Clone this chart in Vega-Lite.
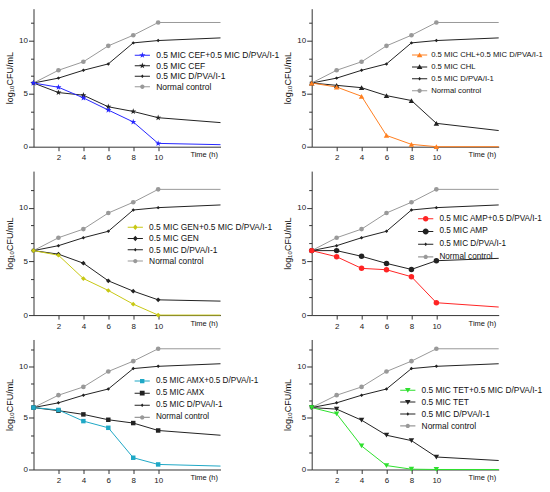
{
  "$schema": "https://vega.github.io/schema/vega-lite/v6.json",
  "padding": {"left": 5.5, "top": 8.7, "right": 0, "bottom": 0},
  "config": {
    "font": "Liberation Sans",
    "view": {"stroke": null},
    "axis": {"grid": false, "domainColor": "#333333", "tickColor": "#333333", "labelColor": "#222222", "labelFontSize": 8, "titleColor": "#111111", "titleFontWeight": "normal"},
    "legend": {"labelFontSize": 8.5, "labelColor": "#111111"}
  },
  "data": {
    "values": [
      {"p": "all", "s": "Normal control", "t": 0, "v": 6}, {"p": "all", "s": "Normal control", "t": 2, "v": 7.2}, {"p": "all", "s": "Normal control", "t": 4, "v": 8.0}, {"p": "all", "s": "Normal control", "t": 6, "v": 9.5}, {"p": "all", "s": "Normal control", "t": 8, "v": 10.5}, {"p": "all", "s": "Normal control", "t": 10, "v": 11.7}, {"p": "all", "s": "Normal control", "t": 15, "v": 11.7},
      {"p": "all", "s": "0.5 MIC D/PVA/I-1", "t": 0, "v": 6}, {"p": "all", "s": "0.5 MIC D/PVA/I-1", "t": 2, "v": 6.46}, {"p": "all", "s": "0.5 MIC D/PVA/I-1", "t": 4, "v": 7.2}, {"p": "all", "s": "0.5 MIC D/PVA/I-1", "t": 6, "v": 7.8}, {"p": "all", "s": "0.5 MIC D/PVA/I-1", "t": 8, "v": 9.78}, {"p": "all", "s": "0.5 MIC D/PVA/I-1", "t": 10, "v": 10.0}, {"p": "all", "s": "0.5 MIC D/PVA/I-1", "t": 15, "v": 10.25},
      {"p": "CEF", "s": "0.5 MIC CEF", "t": 0, "v": 6}, {"p": "CEF", "s": "0.5 MIC CEF", "t": 2, "v": 5.1}, {"p": "CEF", "s": "0.5 MIC CEF", "t": 4, "v": 4.85}, {"p": "CEF", "s": "0.5 MIC CEF", "t": 6, "v": 3.76}, {"p": "CEF", "s": "0.5 MIC CEF", "t": 8, "v": 3.32}, {"p": "CEF", "s": "0.5 MIC CEF", "t": 10, "v": 2.73}, {"p": "CEF", "s": "0.5 MIC CEF", "t": 15, "v": 2.27},
      {"p": "CEF", "s": "0.5 MIC CEF+0.5 MIC D/PVA/I-1", "t": 0, "v": 6}, {"p": "CEF", "s": "0.5 MIC CEF+0.5 MIC D/PVA/I-1", "t": 2, "v": 5.6}, {"p": "CEF", "s": "0.5 MIC CEF+0.5 MIC D/PVA/I-1", "t": 4, "v": 4.6}, {"p": "CEF", "s": "0.5 MIC CEF+0.5 MIC D/PVA/I-1", "t": 6, "v": 3.45}, {"p": "CEF", "s": "0.5 MIC CEF+0.5 MIC D/PVA/I-1", "t": 8, "v": 2.33}, {"p": "CEF", "s": "0.5 MIC CEF+0.5 MIC D/PVA/I-1", "t": 10, "v": 0.31}, {"p": "CEF", "s": "0.5 MIC CEF+0.5 MIC D/PVA/I-1", "t": 15, "v": 0.19},
      {"p": "CHL", "s": "0.5 MIC CHL", "t": 0, "v": 6}, {"p": "CHL", "s": "0.5 MIC CHL", "t": 2, "v": 5.78}, {"p": "CHL", "s": "0.5 MIC CHL", "t": 4, "v": 5.56}, {"p": "CHL", "s": "0.5 MIC CHL", "t": 6, "v": 4.81}, {"p": "CHL", "s": "0.5 MIC CHL", "t": 8, "v": 4.35}, {"p": "CHL", "s": "0.5 MIC CHL", "t": 10, "v": 2.2}, {"p": "CHL", "s": "0.5 MIC CHL", "t": 15, "v": 1.52},
      {"p": "CHL", "s": "0.5 MIC CHL+0.5 MIC D/PVA/I-1", "t": 0, "v": 6}, {"p": "CHL", "s": "0.5 MIC CHL+0.5 MIC D/PVA/I-1", "t": 2, "v": 5.62}, {"p": "CHL", "s": "0.5 MIC CHL+0.5 MIC D/PVA/I-1", "t": 4, "v": 4.75}, {"p": "CHL", "s": "0.5 MIC CHL+0.5 MIC D/PVA/I-1", "t": 6, "v": 1.06}, {"p": "CHL", "s": "0.5 MIC CHL+0.5 MIC D/PVA/I-1", "t": 8, "v": 0.22}, {"p": "CHL", "s": "0.5 MIC CHL+0.5 MIC D/PVA/I-1", "t": 10, "v": 0}, {"p": "CHL", "s": "0.5 MIC CHL+0.5 MIC D/PVA/I-1", "t": 15, "v": 0},
      {"p": "GEN", "s": "0.5 MIC GEN", "t": 0, "v": 6}, {"p": "GEN", "s": "0.5 MIC GEN", "t": 2, "v": 5.67}, {"p": "GEN", "s": "0.5 MIC GEN", "t": 4, "v": 4.83}, {"p": "GEN", "s": "0.5 MIC GEN", "t": 6, "v": 3.19}, {"p": "GEN", "s": "0.5 MIC GEN", "t": 8, "v": 2.23}, {"p": "GEN", "s": "0.5 MIC GEN", "t": 10, "v": 1.42}, {"p": "GEN", "s": "0.5 MIC GEN", "t": 15, "v": 1.3},
      {"p": "GEN", "s": "0.5 MIC GEN+0.5 MIC D/PVA/I-1", "t": 0, "v": 6}, {"p": "GEN", "s": "0.5 MIC GEN+0.5 MIC D/PVA/I-1", "t": 2, "v": 5.57}, {"p": "GEN", "s": "0.5 MIC GEN+0.5 MIC D/PVA/I-1", "t": 4, "v": 3.4}, {"p": "GEN", "s": "0.5 MIC GEN+0.5 MIC D/PVA/I-1", "t": 6, "v": 2.29}, {"p": "GEN", "s": "0.5 MIC GEN+0.5 MIC D/PVA/I-1", "t": 8, "v": 1.02}, {"p": "GEN", "s": "0.5 MIC GEN+0.5 MIC D/PVA/I-1", "t": 10, "v": 0}, {"p": "GEN", "s": "0.5 MIC GEN+0.5 MIC D/PVA/I-1", "t": 15, "v": 0},
      {"p": "AMP", "s": "0.5 MIC AMP", "t": 0, "v": 6}, {"p": "AMP", "s": "0.5 MIC AMP", "t": 2, "v": 6.0}, {"p": "AMP", "s": "0.5 MIC AMP", "t": 4, "v": 5.47}, {"p": "AMP", "s": "0.5 MIC AMP", "t": 6, "v": 4.81}, {"p": "AMP", "s": "0.5 MIC AMP", "t": 8, "v": 4.25}, {"p": "AMP", "s": "0.5 MIC AMP", "t": 10, "v": 5.06}, {"p": "AMP", "s": "0.5 MIC AMP", "t": 15, "v": 5.28},
      {"p": "AMP", "s": "0.5 MIC AMP+0.5 D/PVA/I-1", "t": 0, "v": 6}, {"p": "AMP", "s": "0.5 MIC AMP+0.5 D/PVA/I-1", "t": 2, "v": 5.43}, {"p": "AMP", "s": "0.5 MIC AMP+0.5 D/PVA/I-1", "t": 4, "v": 4.35}, {"p": "AMP", "s": "0.5 MIC AMP+0.5 D/PVA/I-1", "t": 6, "v": 4.22}, {"p": "AMP", "s": "0.5 MIC AMP+0.5 D/PVA/I-1", "t": 8, "v": 3.57}, {"p": "AMP", "s": "0.5 MIC AMP+0.5 D/PVA/I-1", "t": 10, "v": 1.15}, {"p": "AMP", "s": "0.5 MIC AMP+0.5 D/PVA/I-1", "t": 15, "v": 0.75},
      {"p": "AMX", "s": "0.5 MIC AMX", "t": 0, "v": 6}, {"p": "AMX", "s": "0.5 MIC AMX", "t": 2, "v": 5.7}, {"p": "AMX", "s": "0.5 MIC AMX", "t": 4, "v": 5.34}, {"p": "AMX", "s": "0.5 MIC AMX", "t": 6, "v": 4.82}, {"p": "AMX", "s": "0.5 MIC AMX", "t": 8, "v": 4.5}, {"p": "AMX", "s": "0.5 MIC AMX", "t": 10, "v": 3.78}, {"p": "AMX", "s": "0.5 MIC AMX", "t": 15, "v": 3.32},
      {"p": "AMX", "s": "0.5 MIC AMX+0.5 D/PVA/I-1", "t": 0, "v": 6}, {"p": "AMX", "s": "0.5 MIC AMX+0.5 D/PVA/I-1", "t": 2, "v": 5.77}, {"p": "AMX", "s": "0.5 MIC AMX+0.5 D/PVA/I-1", "t": 4, "v": 4.69}, {"p": "AMX", "s": "0.5 MIC AMX+0.5 D/PVA/I-1", "t": 6, "v": 4.04}, {"p": "AMX", "s": "0.5 MIC AMX+0.5 D/PVA/I-1", "t": 8, "v": 1.14}, {"p": "AMX", "s": "0.5 MIC AMX+0.5 D/PVA/I-1", "t": 10, "v": 0.49}, {"p": "AMX", "s": "0.5 MIC AMX+0.5 D/PVA/I-1", "t": 15, "v": 0.33},
      {"p": "TET", "s": "0.5 MIC TET", "t": 0, "v": 6}, {"p": "TET", "s": "0.5 MIC TET", "t": 2, "v": 5.85}, {"p": "TET", "s": "0.5 MIC TET", "t": 4, "v": 4.78}, {"p": "TET", "s": "0.5 MIC TET", "t": 6, "v": 3.32}, {"p": "TET", "s": "0.5 MIC TET", "t": 8, "v": 2.8}, {"p": "TET", "s": "0.5 MIC TET", "t": 10, "v": 1.21}, {"p": "TET", "s": "0.5 MIC TET", "t": 15, "v": 0.87},
      {"p": "TET", "s": "0.5 MIC TET+0.5 MIC D/PVA/I-1", "t": 0, "v": 6}, {"p": "TET", "s": "0.5 MIC TET+0.5 MIC D/PVA/I-1", "t": 2, "v": 5.4}, {"p": "TET", "s": "0.5 MIC TET+0.5 MIC D/PVA/I-1", "t": 4, "v": 2.28}, {"p": "TET", "s": "0.5 MIC TET+0.5 MIC D/PVA/I-1", "t": 6, "v": 0.38}, {"p": "TET", "s": "0.5 MIC TET+0.5 MIC D/PVA/I-1", "t": 8, "v": 0.03}, {"p": "TET", "s": "0.5 MIC TET+0.5 MIC D/PVA/I-1", "t": 10, "v": 0}, {"p": "TET", "s": "0.5 MIC TET+0.5 MIC D/PVA/I-1", "t": 15, "v": 0}
    ]
  },
  "bounds": "flush",
  "columns": 2,
  "spacing": {"row": 24.4, "column": 91.2},
  "concat": [
    {
      "width": 187, "height": 138,
      "transform": [{"filter": "datum.p == 'CEF' || datum.p == 'all'"}],
      "encoding": {
        "x": {"field": "t", "type": "quantitative", "scale": {"domain": [0, 15]}, "axis": {"values": [2, 4, 6, 8, 10], "tickSize": 4, "labelPadding": 3, "title": "Time (h)", "titleFontSize": 7.5, "titleX": 184, "titleY": 8, "titleAlign": "right", "titleBaseline": "middle", "titleAnchor": "end"}},
        "y": {"field": "v", "type": "quantitative", "scale": {"domain": [0, 13]}, "axis": {"title": "log₁₀CFU/mL", "titleFontSize": 9, "titleX": -24, "titleBaseline": "middle", "values": [0, 1.6667, 3.3333, 5, 6.6667, 8.3333, 10, 11.6667], "labelExpr": "datum.value % 5 == 0 ? datum.label : ''", "tickSize": {"condition": {"test": "datum.value % 5 == 0", "value": 5}, "value": 3}, "labelPadding": 1}}
      },
      "layer": [
        {"mark": {"type": "line", "strokeWidth": 1}, "encoding": {"color": {"field": "s", "type": "nominal", "scale": {"domain": ["0.5 MIC CEF+0.5 MIC D/PVA/I-1", "0.5 MIC CEF", "0.5 MIC D/PVA/I-1", "Normal control"], "range": ["#2626ff", "#222222", "#222222", "#999999"]}, "legend": null}}},
        {"transform": [{"filter": "datum.t <= 10 && datum.s == 'Normal control'"}], "mark": {"type": "point", "filled": true, "opacity": 1, "shape": "circle", "size": 22, "color": "#999999"}},
        {"transform": [{"filter": "datum.t <= 10 && datum.s == '0.5 MIC D/PVA/I-1'"}], "mark": {"type": "point", "filled": true, "opacity": 1, "shape": "diamond", "size": 12, "color": "#222222"}},
        {"transform": [{"filter": "datum.t <= 10 && datum.p != 'all'"}], "mark": {"type": "point", "filled": true, "opacity": 1, "size": 40}, "encoding": {
          "color": {"field": "s", "type": "nominal", "scale": {"domain": ["0.5 MIC CEF+0.5 MIC D/PVA/I-1", "0.5 MIC CEF"], "range": ["#2626ff", "#222222"]}, "legend": null},
          "shape": {"field": "s", "type": "nominal", "scale": {"domain": ["0.5 MIC CEF+0.5 MIC D/PVA/I-1", "0.5 MIC CEF"], "range": ["M0,-1L0.235,-0.324L0.951,-0.309L0.38,0.124L0.588,0.809L0,0.4L-0.588,0.809L-0.38,0.124L-0.951,-0.309L-0.235,-0.324Z", "M0,-1L0.235,-0.324L0.951,-0.309L0.38,0.124L0.588,0.809L0,0.4L-0.588,0.809L-0.38,0.124L-0.951,-0.309L-0.235,-0.324Z"]}, "legend": null}}},
        {"transform": [{"filter": "datum.t < 0"}], "mark": {"type": "point", "filled": true, "opacity": 1}, "encoding": {
          "color": {"field": "s", "type": "nominal", "scale": {"domain": ["0.5 MIC CEF+0.5 MIC D/PVA/I-1", "0.5 MIC CEF", "0.5 MIC D/PVA/I-1", "Normal control"], "range": ["#2626ff", "#222222", "#222222", "#999999"]}, "legend": {"title": null, "orient": "none", "legendX": 104.6, "legendY": 42.3, "padding": 0, "rowPadding": 1.5, "labelOffset": 9.6, "labelFontSize": 8.5, "symbolSize": 64, "symbolStrokeWidth": 0}},
          "shape": {"field": "s", "type": "nominal", "scale": {"domain": ["0.5 MIC CEF+0.5 MIC D/PVA/I-1", "0.5 MIC CEF", "0.5 MIC D/PVA/I-1", "Normal control"], "range": ["M-1.9,-0.13H1.9V0.13H-1.9Z M0,-0.8L0.188,-0.259L0.761,-0.247L0.304,0.099L0.47,0.647L0,0.32L-0.47,0.647L-0.304,0.099L-0.761,-0.247L-0.188,-0.259Z", "M-1.9,-0.13H1.9V0.13H-1.9Z M0,-0.8L0.188,-0.259L0.761,-0.247L0.304,0.099L0.47,0.647L0,0.32L-0.47,0.647L-0.304,0.099L-0.761,-0.247L-0.188,-0.259Z", "M-1.9,-0.13H1.9V0.13H-1.9Z M0,-0.45L0.4,0L0,0.45L-0.4,0Z", "M-1.9,-0.13H1.9V0.13H-1.9Z M-0.55,0A0.55,0.55 0 1,1 0.55,0A0.55,0.55 0 1,1 -0.55,0Z"]}, "legend": {"title": null, "orient": "none", "legendX": 104.6, "legendY": 42.3, "padding": 0, "rowPadding": 1.5, "labelOffset": 9.6, "labelFontSize": 8.5, "symbolSize": 64, "symbolStrokeWidth": 0}}}}
      ],
      "resolve": {"scale": {"color": "independent", "shape": "independent"}}
    },
    {
      "width": 187, "height": 138,
      "transform": [{"filter": "datum.p == 'CHL' || datum.p == 'all'"}],
      "encoding": {
        "x": {"field": "t", "type": "quantitative", "scale": {"domain": [0, 15]}, "axis": {"values": [2, 4, 6, 8, 10], "tickSize": 4, "labelPadding": 3, "title": "Time (h)", "titleFontSize": 7.5, "titleX": 184, "titleY": 8, "titleAlign": "right", "titleBaseline": "middle", "titleAnchor": "end"}},
        "y": {"field": "v", "type": "quantitative", "scale": {"domain": [0, 13]}, "axis": {"title": "log₁₀CFU/mL", "titleFontSize": 9, "titleX": -24, "titleBaseline": "middle", "values": [0, 1.6667, 3.3333, 5, 6.6667, 8.3333, 10, 11.6667], "labelExpr": "datum.value % 5 == 0 ? datum.label : ''", "tickSize": {"condition": {"test": "datum.value % 5 == 0", "value": 5}, "value": 3}, "labelPadding": 1}}
      },
      "layer": [
        {"mark": {"type": "line", "strokeWidth": 1}, "encoding": {"color": {"field": "s", "type": "nominal", "scale": {"domain": ["0.5 MIC CHL+0.5 MIC D/PVA/I-1", "0.5 MIC CHL", "0.5 MIC D/PVA/I-1", "Normal control"], "range": ["#ff8020", "#222222", "#222222", "#999999"]}, "legend": null}}},
        {"transform": [{"filter": "datum.t <= 10 && datum.s == 'Normal control'"}], "mark": {"type": "point", "filled": true, "opacity": 1, "shape": "circle", "size": 22, "color": "#999999"}},
        {"transform": [{"filter": "datum.t <= 10 && datum.s == '0.5 MIC D/PVA/I-1'"}], "mark": {"type": "point", "filled": true, "opacity": 1, "shape": "diamond", "size": 12, "color": "#222222"}},
        {"transform": [{"filter": "datum.t <= 10 && datum.p != 'all'"}], "mark": {"type": "point", "filled": true, "opacity": 1, "size": 30}, "encoding": {
          "color": {"field": "s", "type": "nominal", "scale": {"domain": ["0.5 MIC CHL+0.5 MIC D/PVA/I-1", "0.5 MIC CHL"], "range": ["#ff8020", "#222222"]}, "legend": null},
          "shape": {"field": "s", "type": "nominal", "scale": {"domain": ["0.5 MIC CHL+0.5 MIC D/PVA/I-1", "0.5 MIC CHL"], "range": ["triangle-up", "triangle-up"]}, "legend": null}}},
        {"transform": [{"filter": "datum.t < 0"}], "mark": {"type": "point", "filled": true, "opacity": 1}, "encoding": {
          "color": {"field": "s", "type": "nominal", "scale": {"domain": ["0.5 MIC CHL+0.5 MIC D/PVA/I-1", "0.5 MIC CHL", "0.5 MIC D/PVA/I-1", "Normal control"], "range": ["#ff8020", "#222222", "#222222", "#999999"]}, "legend": {"title": null, "orient": "none", "legendX": 103.9, "legendY": 42.3, "padding": 0, "rowPadding": 3.9, "labelOffset": 7.6, "labelFontSize": 7.7, "symbolSize": 64, "symbolStrokeWidth": 0}},
          "shape": {"field": "s", "type": "nominal", "scale": {"domain": ["0.5 MIC CHL+0.5 MIC D/PVA/I-1", "0.5 MIC CHL", "0.5 MIC D/PVA/I-1", "Normal control"], "range": ["M-1.9,-0.13H1.9V0.13H-1.9Z M0,-0.65L0.7,0.55L-0.7,0.55Z", "M-1.9,-0.13H1.9V0.13H-1.9Z M0,-0.65L0.7,0.55L-0.7,0.55Z", "M-1.9,-0.13H1.9V0.13H-1.9Z M0,-0.45L0.4,0L0,0.45L-0.4,0Z", "M-1.9,-0.13H1.9V0.13H-1.9Z M-0.55,0A0.55,0.55 0 1,1 0.55,0A0.55,0.55 0 1,1 -0.55,0Z"]}, "legend": {"title": null, "orient": "none", "legendX": 103.9, "legendY": 42.3, "padding": 0, "rowPadding": 3.9, "labelOffset": 7.6, "labelFontSize": 7.7, "symbolSize": 64, "symbolStrokeWidth": 0}}}}
      ],
      "resolve": {"scale": {"color": "independent", "shape": "independent"}}
    },
    {
      "width": 187, "height": 144,
      "transform": [{"filter": "datum.p == 'GEN' || datum.p == 'all'"}],
      "encoding": {
        "x": {"field": "t", "type": "quantitative", "scale": {"domain": [0, 15]}, "axis": {"values": [2, 4, 6, 8, 10], "tickSize": 4, "labelPadding": 3, "title": "Time (h)", "titleFontSize": 7.5, "titleX": 184, "titleY": 8, "titleAlign": "right", "titleBaseline": "middle", "titleAnchor": "end"}},
        "y": {"field": "v", "type": "quantitative", "scale": {"domain": [0, 13.4]}, "axis": {"title": "log₁₀CFU/mL", "titleFontSize": 9, "titleX": -24, "titleBaseline": "middle", "values": [0, 1.6667, 3.3333, 5, 6.6667, 8.3333, 10, 11.6667], "labelExpr": "datum.value % 5 == 0 ? datum.label : ''", "tickSize": {"condition": {"test": "datum.value % 5 == 0", "value": 5}, "value": 3}, "labelPadding": 1}}
      },
      "layer": [
        {"mark": {"type": "line", "strokeWidth": 1}, "encoding": {"color": {"field": "s", "type": "nominal", "scale": {"domain": ["0.5 MIC GEN+0.5 MIC D/PVA/I-1", "0.5 MIC GEN", "0.5 MIC D/PVA/I-1", "Normal control"], "range": ["#c8c814", "#222222", "#222222", "#999999"]}, "legend": null}}},
        {"transform": [{"filter": "datum.t <= 10 && datum.s == 'Normal control'"}], "mark": {"type": "point", "filled": true, "opacity": 1, "shape": "circle", "size": 22, "color": "#999999"}},
        {"transform": [{"filter": "datum.t <= 10 && datum.s == '0.5 MIC D/PVA/I-1'"}], "mark": {"type": "point", "filled": true, "opacity": 1, "shape": "diamond", "size": 12, "color": "#222222"}},
        {"transform": [{"filter": "datum.t <= 10 && datum.p != 'all'"}], "mark": {"type": "point", "filled": true, "opacity": 1, "size": 22, "shape": "diamond"}, "encoding": {
          "color": {"field": "s", "type": "nominal", "scale": {"domain": ["0.5 MIC GEN+0.5 MIC D/PVA/I-1", "0.5 MIC GEN"], "range": ["#c8c814", "#222222"]}, "legend": null}}},
        {"transform": [{"filter": "datum.t < 0"}], "mark": {"type": "point", "filled": true, "opacity": 1}, "encoding": {
          "color": {"field": "s", "type": "nominal", "scale": {"domain": ["0.5 MIC GEN+0.5 MIC D/PVA/I-1", "0.5 MIC GEN", "0.5 MIC D/PVA/I-1", "Normal control"], "range": ["#c8c814", "#222222", "#222222", "#999999"]}, "legend": {"title": null, "orient": "none", "legendX": 97.6, "legendY": 51.9, "padding": 0, "rowPadding": 2.3, "labelOffset": 9.6, "labelFontSize": 8.4, "symbolSize": 64, "symbolStrokeWidth": 0}},
          "shape": {"field": "s", "type": "nominal", "scale": {"domain": ["0.5 MIC GEN+0.5 MIC D/PVA/I-1", "0.5 MIC GEN", "0.5 MIC D/PVA/I-1", "Normal control"], "range": ["M-1.9,-0.13H1.9V0.13H-1.9Z M0,-0.7L0.6,0L0,0.7L-0.6,0Z", "M-1.9,-0.13H1.9V0.13H-1.9Z M0,-0.7L0.6,0L0,0.7L-0.6,0Z", "M-1.9,-0.13H1.9V0.13H-1.9Z M0,-0.45L0.4,0L0,0.45L-0.4,0Z", "M-1.9,-0.13H1.9V0.13H-1.9Z M-0.55,0A0.55,0.55 0 1,1 0.55,0A0.55,0.55 0 1,1 -0.55,0Z"]}, "legend": {"title": null, "orient": "none", "legendX": 97.6, "legendY": 51.9, "padding": 0, "rowPadding": 2.3, "labelOffset": 9.6, "labelFontSize": 8.4, "symbolSize": 64, "symbolStrokeWidth": 0}}}}
      ],
      "resolve": {"scale": {"color": "independent", "shape": "independent"}}
    },
    {
      "width": 187, "height": 144,
      "transform": [{"filter": "datum.p == 'AMP' || datum.p == 'all'"}],
      "encoding": {
        "x": {"field": "t", "type": "quantitative", "scale": {"domain": [0, 15]}, "axis": {"values": [2, 4, 6, 8, 10], "tickSize": 4, "labelPadding": 3, "title": "Time (h)", "titleFontSize": 7.5, "titleX": 184, "titleY": 8, "titleAlign": "right", "titleBaseline": "middle", "titleAnchor": "end"}},
        "y": {"field": "v", "type": "quantitative", "scale": {"domain": [0, 13.4]}, "axis": {"title": "log₁₀CFU/mL", "titleFontSize": 9, "titleX": -24, "titleBaseline": "middle", "values": [0, 1.6667, 3.3333, 5, 6.6667, 8.3333, 10, 11.6667], "labelExpr": "datum.value % 5 == 0 ? datum.label : ''", "tickSize": {"condition": {"test": "datum.value % 5 == 0", "value": 5}, "value": 3}, "labelPadding": 1}}
      },
      "layer": [
        {"mark": {"type": "line", "strokeWidth": 1}, "encoding": {"color": {"field": "s", "type": "nominal", "scale": {"domain": ["0.5 MIC AMP+0.5 D/PVA/I-1", "0.5 MIC AMP", "0.5 MIC D/PVA/I-1", "Normal control"], "range": ["#ff2424", "#222222", "#222222", "#999999"]}, "legend": null}}},
        {"transform": [{"filter": "datum.t <= 10 && datum.s == 'Normal control'"}], "mark": {"type": "point", "filled": true, "opacity": 1, "shape": "circle", "size": 22, "color": "#999999"}},
        {"transform": [{"filter": "datum.t <= 10 && datum.s == '0.5 MIC D/PVA/I-1'"}], "mark": {"type": "point", "filled": true, "opacity": 1, "shape": "diamond", "size": 12, "color": "#222222"}},
        {"transform": [{"filter": "datum.t <= 10 && datum.p != 'all'"}], "mark": {"type": "point", "filled": true, "opacity": 1, "size": 30, "shape": "circle"}, "encoding": {
          "color": {"field": "s", "type": "nominal", "scale": {"domain": ["0.5 MIC AMP+0.5 D/PVA/I-1", "0.5 MIC AMP"], "range": ["#ff2424", "#222222"]}, "legend": null}}},
        {"transform": [{"filter": "datum.t < 0"}], "mark": {"type": "point", "filled": true, "opacity": 1}, "encoding": {
          "color": {"field": "s", "type": "nominal", "scale": {"domain": ["0.5 MIC AMP+0.5 D/PVA/I-1", "0.5 MIC AMP", "0.5 MIC D/PVA/I-1", "Normal control"], "range": ["#ff2424", "#222222", "#222222", "#999999"]}, "legend": {"title": null, "orient": "none", "legendX": 109.9, "legendY": 43.6, "padding": 0, "rowPadding": 3.7, "labelOffset": 9.6, "labelFontSize": 8.2, "symbolSize": 64, "symbolStrokeWidth": 0}},
          "shape": {"field": "s", "type": "nominal", "scale": {"domain": ["0.5 MIC AMP+0.5 D/PVA/I-1", "0.5 MIC AMP", "0.5 MIC D/PVA/I-1", "Normal control"], "range": ["M-1.9,-0.13H1.9V0.13H-1.9Z M-0.7,0A0.7,0.7 0 1,1 0.7,0A0.7,0.7 0 1,1 -0.7,0Z", "M-1.9,-0.13H1.9V0.13H-1.9Z M-0.75,0A0.75,0.75 0 1,1 0.75,0A0.75,0.75 0 1,1 -0.75,0Z", "M-1.9,-0.13H1.9V0.13H-1.9Z M0,-0.45L0.4,0L0,0.45L-0.4,0Z", "M-1.9,-0.13H1.9V0.13H-1.9Z M-0.55,0A0.55,0.55 0 1,1 0.55,0A0.55,0.55 0 1,1 -0.55,0Z"]}, "legend": {"title": null, "orient": "none", "legendX": 109.9, "legendY": 43.6, "padding": 0, "rowPadding": 3.7, "labelOffset": 9.6, "labelFontSize": 8.2, "symbolSize": 64, "symbolStrokeWidth": 0}}}}
      ],
      "resolve": {"scale": {"color": "independent", "shape": "independent"}}
    },
    {
      "width": 187, "height": 130,
      "transform": [{"filter": "datum.p == 'AMX' || datum.p == 'all'"}],
      "encoding": {
        "x": {"field": "t", "type": "quantitative", "scale": {"domain": [0, 15]}, "axis": {"values": [2, 4, 6, 8, 10], "tickSize": 4, "labelPadding": 3, "title": "Time (h)", "titleFontSize": 7.5, "titleX": 184, "titleY": 8, "titleAlign": "right", "titleBaseline": "middle", "titleAnchor": "end"}},
        "y": {"field": "v", "type": "quantitative", "scale": {"domain": [0, 12.6]}, "axis": {"title": "log₁₀CFU/mL", "titleFontSize": 9, "titleX": -24, "titleBaseline": "middle", "values": [0, 1.6667, 3.3333, 5, 6.6667, 8.3333, 10, 11.6667], "labelExpr": "datum.value % 5 == 0 ? datum.label : ''", "tickSize": {"condition": {"test": "datum.value % 5 == 0", "value": 5}, "value": 3}, "labelPadding": 1}}
      },
      "layer": [
        {"mark": {"type": "line", "strokeWidth": 1}, "encoding": {"color": {"field": "s", "type": "nominal", "scale": {"domain": ["0.5 MIC AMX+0.5 D/PVA/I-1", "0.5 MIC AMX", "0.5 MIC D/PVA/I-1", "Normal control"], "range": ["#1fa8c6", "#222222", "#222222", "#999999"]}, "legend": null}}},
        {"transform": [{"filter": "datum.t <= 10 && datum.s == 'Normal control'"}], "mark": {"type": "point", "filled": true, "opacity": 1, "shape": "circle", "size": 22, "color": "#999999"}},
        {"transform": [{"filter": "datum.t <= 10 && datum.s == '0.5 MIC D/PVA/I-1'"}], "mark": {"type": "point", "filled": true, "opacity": 1, "shape": "diamond", "size": 12, "color": "#222222"}},
        {"transform": [{"filter": "datum.t <= 10 && datum.p != 'all'"}], "mark": {"type": "point", "filled": true, "opacity": 1, "size": 20, "shape": "square"}, "encoding": {
          "color": {"field": "s", "type": "nominal", "scale": {"domain": ["0.5 MIC AMX+0.5 D/PVA/I-1", "0.5 MIC AMX"], "range": ["#1fa8c6", "#222222"]}, "legend": null}}},
        {"transform": [{"filter": "datum.t < 0"}], "mark": {"type": "point", "filled": true, "opacity": 1}, "encoding": {
          "color": {"field": "s", "type": "nominal", "scale": {"domain": ["0.5 MIC AMX+0.5 D/PVA/I-1", "0.5 MIC AMX", "0.5 MIC D/PVA/I-1", "Normal control"], "range": ["#1fa8c6", "#222222", "#222222", "#999999"]}, "legend": {"title": null, "orient": "none", "legendX": 104.6, "legendY": 37.5, "padding": 0, "rowPadding": 3.1, "labelOffset": 9.6, "labelFontSize": 8.2, "symbolSize": 64, "symbolStrokeWidth": 0}},
          "shape": {"field": "s", "type": "nominal", "scale": {"domain": ["0.5 MIC AMX+0.5 D/PVA/I-1", "0.5 MIC AMX", "0.5 MIC D/PVA/I-1", "Normal control"], "range": ["M-1.9,-0.13H1.9V0.13H-1.9Z M-0.55,-0.55H0.55V0.55H-0.55Z", "M-1.9,-0.13H1.9V0.13H-1.9Z M-0.6,-0.6H0.6V0.6H-0.6Z", "M-1.9,-0.13H1.9V0.13H-1.9Z M0,-0.45L0.4,0L0,0.45L-0.4,0Z", "M-1.9,-0.13H1.9V0.13H-1.9Z M-0.55,0A0.55,0.55 0 1,1 0.55,0A0.55,0.55 0 1,1 -0.55,0Z"]}, "legend": {"title": null, "orient": "none", "legendX": 104.6, "legendY": 37.5, "padding": 0, "rowPadding": 3.1, "labelOffset": 9.6, "labelFontSize": 8.2, "symbolSize": 64, "symbolStrokeWidth": 0}}}}
      ],
      "resolve": {"scale": {"color": "independent", "shape": "independent"}}
    },
    {
      "width": 187, "height": 130,
      "transform": [{"filter": "datum.p == 'TET' || datum.p == 'all'"}],
      "encoding": {
        "x": {"field": "t", "type": "quantitative", "scale": {"domain": [0, 15]}, "axis": {"values": [2, 4, 6, 8, 10], "tickSize": 4, "labelPadding": 3, "title": "Time (h)", "titleFontSize": 7.5, "titleX": 184, "titleY": 8, "titleAlign": "right", "titleBaseline": "middle", "titleAnchor": "end"}},
        "y": {"field": "v", "type": "quantitative", "scale": {"domain": [0, 12.6]}, "axis": {"title": "log₁₀CFU/mL", "titleFontSize": 9, "titleX": -24, "titleBaseline": "middle", "values": [0, 1.6667, 3.3333, 5, 6.6667, 8.3333, 10, 11.6667], "labelExpr": "datum.value % 5 == 0 ? datum.label : ''", "tickSize": {"condition": {"test": "datum.value % 5 == 0", "value": 5}, "value": 3}, "labelPadding": 1}}
      },
      "layer": [
        {"mark": {"type": "line", "strokeWidth": 1}, "encoding": {"color": {"field": "s", "type": "nominal", "scale": {"domain": ["0.5 MIC TET+0.5 MIC D/PVA/I-1", "0.5 MIC TET", "0.5 MIC D/PVA/I-1", "Normal control"], "range": ["#2ee02e", "#222222", "#222222", "#999999"]}, "legend": null}}},
        {"transform": [{"filter": "datum.t <= 10 && datum.s == 'Normal control'"}], "mark": {"type": "point", "filled": true, "opacity": 1, "shape": "circle", "size": 22, "color": "#999999"}},
        {"transform": [{"filter": "datum.t <= 10 && datum.s == '0.5 MIC D/PVA/I-1'"}], "mark": {"type": "point", "filled": true, "opacity": 1, "shape": "diamond", "size": 12, "color": "#222222"}},
        {"transform": [{"filter": "datum.t <= 10 && datum.p != 'all'"}], "mark": {"type": "point", "filled": true, "opacity": 1, "size": 30, "shape": "triangle-down"}, "encoding": {
          "color": {"field": "s", "type": "nominal", "scale": {"domain": ["0.5 MIC TET+0.5 MIC D/PVA/I-1", "0.5 MIC TET"], "range": ["#2ee02e", "#222222"]}, "legend": null}}},
        {"transform": [{"filter": "datum.t < 0"}], "mark": {"type": "point", "filled": true, "opacity": 1}, "encoding": {
          "color": {"field": "s", "type": "nominal", "scale": {"domain": ["0.5 MIC TET+0.5 MIC D/PVA/I-1", "0.5 MIC TET", "0.5 MIC D/PVA/I-1", "Normal control"], "range": ["#2ee02e", "#222222", "#222222", "#999999"]}, "legend": {"title": null, "orient": "none", "legendX": 91.9, "legendY": 46.5, "padding": 0, "rowPadding": 2.9, "labelOffset": 9.6, "labelFontSize": 8.4, "symbolSize": 64, "symbolStrokeWidth": 0}},
          "shape": {"field": "s", "type": "nominal", "scale": {"domain": ["0.5 MIC TET+0.5 MIC D/PVA/I-1", "0.5 MIC TET", "0.5 MIC D/PVA/I-1", "Normal control"], "range": ["M-1.9,-0.13H1.9V0.13H-1.9Z M0,0.65L-0.7,-0.55L0.7,-0.55Z", "M-1.9,-0.13H1.9V0.13H-1.9Z M0,0.65L-0.7,-0.55L0.7,-0.55Z", "M-1.9,-0.13H1.9V0.13H-1.9Z M0,-0.45L0.4,0L0,0.45L-0.4,0Z", "M-1.9,-0.13H1.9V0.13H-1.9Z M-0.55,0A0.55,0.55 0 1,1 0.55,0A0.55,0.55 0 1,1 -0.55,0Z"]}, "legend": {"title": null, "orient": "none", "legendX": 91.9, "legendY": 46.5, "padding": 0, "rowPadding": 2.9, "labelOffset": 9.6, "labelFontSize": 8.4, "symbolSize": 64, "symbolStrokeWidth": 0}}}}
      ],
      "resolve": {"scale": {"color": "independent", "shape": "independent"}}
    }
  ]
}
